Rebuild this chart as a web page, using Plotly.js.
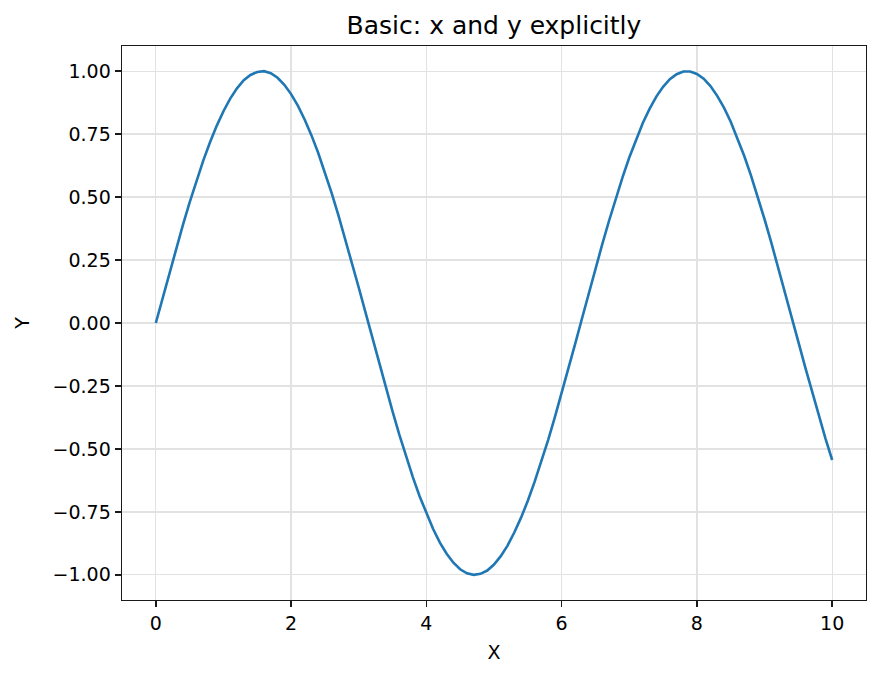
<!DOCTYPE html>
<html>
<head>
<meta charset="utf-8">
<script src="https://cdn.plot.ly/plotly-3.0.1.min.js"></script>
<style>
  html, body { margin: 0; padding: 0; background: #fff; }
  #plot { width: 880px; height: 678px; }
</style>
</head>
<body>
<div id="plot"></div>
<script>
// values
var xVals = [0, 0.1, 0.2, 0.3, 0.4, 0.5, 0.6, 0.7, 0.8, 0.9,
  1.0, 1.1, 1.2, 1.3, 1.4, 1.5, 1.6, 1.7, 1.8, 1.9,
  2.0, 2.1, 2.2, 2.3, 2.4, 2.5, 2.6, 2.7, 2.8, 2.9,
  3.0, 3.1, 3.2, 3.3, 3.4, 3.5, 3.6, 3.7, 3.8, 3.9,
  4.0, 4.1, 4.2, 4.3, 4.4, 4.5, 4.6, 4.7, 4.8, 4.9,
  5.0, 5.1, 5.2, 5.3, 5.4, 5.5, 5.6, 5.7, 5.8, 5.9,
  6.0, 6.1, 6.2, 6.3, 6.4, 6.5, 6.6, 6.7, 6.8, 6.9,
  7.0, 7.1, 7.2, 7.3, 7.4, 7.5, 7.6, 7.7, 7.8, 7.9,
  8.0, 8.1, 8.2, 8.3, 8.4, 8.5, 8.6, 8.7, 8.8, 8.9,
  9.0, 9.1, 9.2, 9.3, 9.4, 9.5, 9.6, 9.7, 9.8, 9.9, 10.0];
var yVals = [0, 0.100, 0.199, 0.296, 0.389, 0.479, 0.565, 0.644, 0.717, 0.783,
  0.841, 0.891, 0.932, 0.964, 0.985, 0.997, 1.000, 0.992, 0.974, 0.946,
  0.909, 0.863, 0.808, 0.746, 0.676, 0.598, 0.516, 0.427, 0.335, 0.239,
  0.141, 0.042, -0.058, -0.158, -0.256, -0.351, -0.443, -0.530, -0.612, -0.688,
  -0.757, -0.818, -0.872, -0.916, -0.952, -0.978, -0.994, -1.000, -0.996, -0.983,
  -0.959, -0.926, -0.884, -0.832, -0.773, -0.706, -0.631, -0.551, -0.465, -0.374,
  -0.279, -0.182, -0.083, 0.017, 0.117, 0.215, 0.312, 0.405, 0.494, 0.578,
  0.657, 0.729, 0.794, 0.850, 0.899, 0.938, 0.968, 0.988, 0.999, 0.999,
  0.989, 0.970, 0.941, 0.902, 0.855, 0.799, 0.734, 0.663, 0.585, 0.501,
  0.412, 0.319, 0.223, 0.125, 0.025, -0.075, -0.174, -0.272, -0.367, -0.458, -0.544];
var xTicks = [0, 2, 4, 6, 8, 10];
var yTicks = [-1.0, -0.75, -0.5, -0.25, 0, 0.25, 0.5, 0.75, 1.0];

var font = 'DejaVu Sans, sans-serif';

var trace = {
  x: xVals,
  y: yVals,
  type: 'scatter',
  mode: 'lines',
  line: { color: '#1f77b4', width: 2.6 }
};

var axisBase = {
  showline: true,
  mirror: true,
  linecolor: '#1a1a1a',
  linewidth: 1.4,
  ticks: 'outside',
  ticklen: 6,
  tickwidth: 1.4,
  tickcolor: '#1a1a1a',
  showgrid: true,
  gridcolor: '#e2e2e2',
  gridwidth: 1.3,
  zeroline: false,
  tickfont: { family: font, size: 19, color: '#000' }
};

var layout = {
  width: 880,
  height: 678,
  margin: { l: 122, r: 14, t: 46, b: 78 },
  paper_bgcolor: '#fff',
  plot_bgcolor: '#fff',
  showlegend: false,
  title: {
    text: 'Basic: x and y explicitly',
    font: { family: font, size: 25, color: '#000' },
    x: 0.5,
    xref: 'paper',
    y: 1 - 25 / 678,
    yref: 'container',
    yanchor: 'middle'
  },
  xaxis: Object.assign({}, axisBase, {
    range: [-0.5, 10.5],
    tickvals: xTicks,
    ticktext: xTicks.map(String),
    title: { text: 'X', font: { family: font, size: 19, color: '#000' }, standoff: 12 }
  }),
  yaxis: Object.assign({}, axisBase, {
    range: [-1.1, 1.1],
    tickvals: yTicks,
    tickformat: '.2f',
    title: { text: 'Y', font: { family: font, size: 19, color: '#000' }, standoff: 18 }
  })
};

Plotly.newPlot('plot', [trace], layout, { staticPlot: true });
</script>
</body>
</html>
